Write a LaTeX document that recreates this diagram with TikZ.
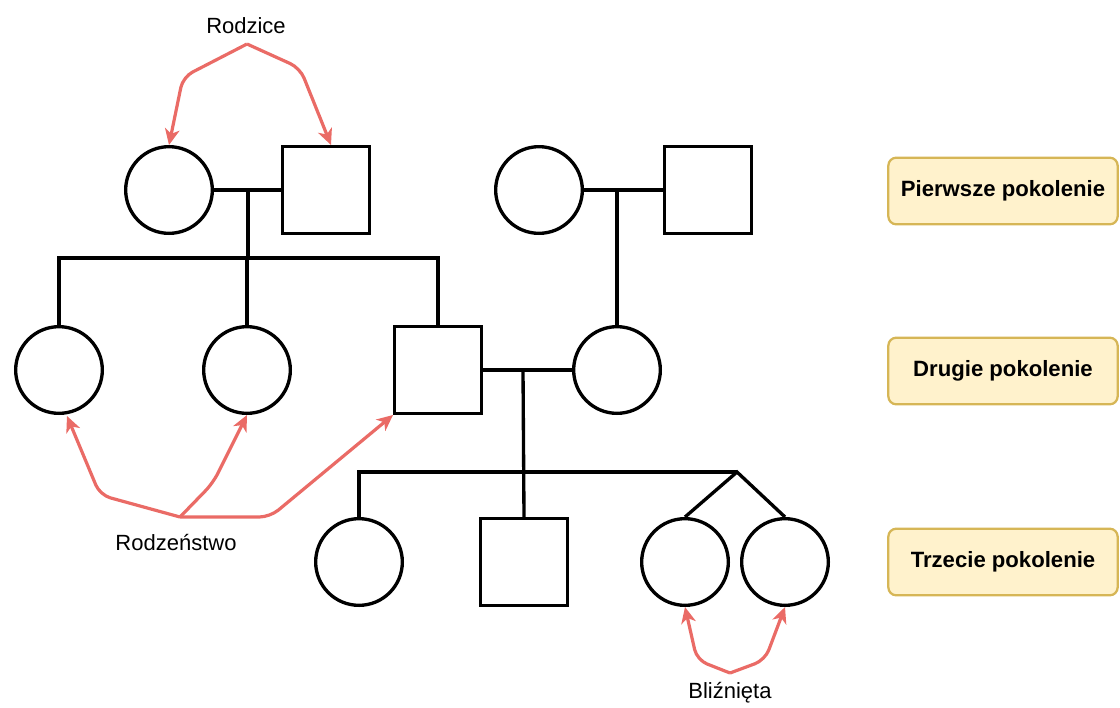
\documentclass[tikz,border=0pt]{standalone}
\usepackage{fontspec}
\setmainfont{Liberation Sans}
\usetikzlibrary{positioning,arrows.meta}
\definecolor{hintred}{HTML}{EA6B66}
\definecolor{genfill}{HTML}{FFF2CC}
\definecolor{gendraw}{HTML}{D6B656}
\tikzset{
    female/.style={draw, circle, minimum size=65pt, inner sep=0pt},
    male/.style={draw, rectangle, minimum size=65pt, inner sep=0pt},
    genbox/.style={draw=gendraw, fill=genfill, line width=1.7pt, rounded corners=6pt,
        minimum width=172pt, minimum height=50pt, font=\fontsize{16.6}{20}\selectfont\bfseries},
    hint/.style={hintred, line width=2.4pt, rounded corners=8pt,
        -{Stealth[length=12pt,width=11pt,inset=3.5pt]}},
}
\begin{document}
\begin{tikzpicture}[x=0.75pt,y=-0.75pt,line width=2.5pt,font=\fontsize{16.5}{20}\selectfont]
    \useasboundingbox (0,0) rectangle (1120,707);
    % first generation
    \foreach \name/\x in {a/169, c/539}
        \node[female] (\name) at (\x,190) {};
    \foreach \name/\x in {b/326, d/708}
        \node[male] (\name) at (\x,190) {};
    % second generation
    \foreach \name/\x in {s1/59, s2/247, f/617}
        \node[female] (\name) at (\x,370) {};
    \node[male] (g) at (438,370) {};
    % third generation
    \foreach \name/\x in {k1/359, t1/685, t2/785}
        \node[female] (\name) at (\x,562) {};
    \node[male] (k2) at (524,562) {};

    \coordinate (m1) at (248,190);
    \coordinate (j1) at (248,258);
    \coordinate (m2) at (617,190);
    \coordinate (m3) at (523,370);
    \coordinate (tw) at (737,472);

    \draw (a) -- (b);
    \draw (c) -- (d);
    \draw (m1) -- (j1);
    \draw (s1.north) |- (j1) -| (g.north);
    \draw (s2.north) -- (s2.north |- j1);
    \draw (m2) -- (f.north);
    \draw (g) -- (f);
    \draw (m3) -- (k2.north);
    \draw (k1.north) |- (tw);
    \draw (t1.north) -- (tw) -- (t2.north);

    % labels
    \node (rodzice) at (246,26) {Rodzice};
    \node (rodzenstwo) at (176,542) {Rodzeństwo};
    \node (blizn) at (730,693) {Bliźnięta};
    \coordinate (rp) at (247,44);
    \coordinate (sp) at (180,517);
    \coordinate (bp) at (730,673);

    \draw[hint] (rp) -- (183,77) -- (a.north);
    \draw[hint] (rp) -- (300,68) -- ([xshift=3.75pt]b.north);
    \draw[hint] (sp) -- (100,495) -- (67,416);
    \draw[hint] (sp) -- (213,483) -- (s2.south);
    \draw[hint] (sp) -- (270,517) -- (g.south west);
    \draw[hint] (bp) -- (697,660) -- (t1.south);
    \draw[hint] (bp) -- (765,660) -- (t2.south);

    % generations
    \node[genbox] (gen1) at (1003,191) {Pierwsze pokolenie};
    \node[genbox] (gen2) at (1003,371) {Drugie pokolenie};
    \node[genbox] (gen3) at (1003,562) {Trzecie pokolenie};
\end{tikzpicture}
\end{document}
